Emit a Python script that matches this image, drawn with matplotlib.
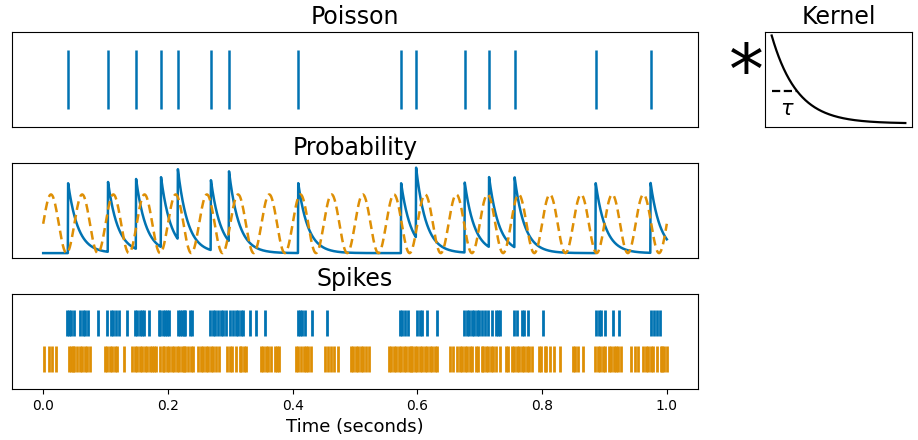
import numpy as np
import matplotlib
matplotlib.use("Agg")
import matplotlib.pyplot as plt

poisson_times = [0.040, 0.104, 0.149, 0.189, 0.216, 0.269, 0.298, 0.409, 0.574,
                 0.598, 0.676, 0.715, 0.756, 0.886, 0.974]
tau = 0.016
rate_freq = 20.0
rate_amp = 0.42

blue_spikes = [0.038, 0.041, 0.045, 0.049, 0.059, 0.064, 0.067, 0.072, 0.088, 0.103, 0.108,
               0.112, 0.116, 0.121, 0.134, 0.148, 0.151, 0.155, 0.158, 0.162, 0.170, 0.185,
               0.188, 0.192, 0.196, 0.199, 0.201, 0.216, 0.219, 0.222, 0.225, 0.228, 0.236,
               0.239, 0.268, 0.272, 0.276, 0.280, 0.285, 0.289, 0.293, 0.299, 0.304, 0.309,
               0.313, 0.317, 0.321, 0.332, 0.342, 0.356, 0.408, 0.412, 0.415, 0.420, 0.431,
               0.455, 0.572, 0.576, 0.580, 0.585, 0.600, 0.604, 0.608, 0.616, 0.632, 0.675,
               0.679, 0.683, 0.687, 0.691, 0.695, 0.699, 0.703, 0.708, 0.714, 0.719, 0.726,
               0.730, 0.733, 0.755, 0.759, 0.767, 0.771, 0.778, 0.801, 0.887, 0.891, 0.895,
               0.901, 0.913, 0.924, 0.975, 0.979, 0.984, 0.989]
orange_spikes = [0.002, 0.009, 0.014, 0.021, 0.041, 0.045, 0.048, 0.050, 0.054, 0.059, 0.063,
                 0.067, 0.071, 0.075, 0.099, 0.103, 0.107, 0.111, 0.115, 0.118, 0.129, 0.143,
                 0.147, 0.151, 0.155, 0.159, 0.163, 0.167, 0.171, 0.175, 0.178, 0.181, 0.188,
                 0.192, 0.194, 0.198, 0.202, 0.206, 0.210, 0.214, 0.218, 0.222, 0.225, 0.228,
                 0.232, 0.237, 0.241, 0.248, 0.253, 0.257, 0.261, 0.264, 0.269, 0.273, 0.277,
                 0.282, 0.294, 0.300, 0.303, 0.309, 0.315, 0.318, 0.322, 0.325, 0.349, 0.353,
                 0.357, 0.361, 0.366, 0.371, 0.375, 0.378, 0.405, 0.409, 0.413, 0.418, 0.422,
                 0.425, 0.429, 0.452, 0.456, 0.462, 0.466, 0.472, 0.493, 0.497, 0.502, 0.505,
                 0.509, 0.513, 0.518, 0.523, 0.554, 0.558, 0.562, 0.566, 0.570, 0.574, 0.578,
                 0.582, 0.586, 0.589, 0.592, 0.596, 0.600, 0.604, 0.608, 0.612, 0.616, 0.620,
                 0.624, 0.628, 0.631, 0.652, 0.657, 0.663, 0.668, 0.672, 0.676, 0.680, 0.684,
                 0.688, 0.694, 0.698, 0.703, 0.706, 0.710, 0.714, 0.718, 0.722, 0.726, 0.732,
                 0.742, 0.746, 0.751, 0.755, 0.759, 0.763, 0.767, 0.771, 0.775, 0.779, 0.784,
                 0.795, 0.799, 0.804, 0.807, 0.812, 0.819, 0.828, 0.849, 0.853, 0.858, 0.866,
                 0.885, 0.890, 0.893, 0.897, 0.901, 0.907, 0.911, 0.915, 0.918, 0.922, 0.926,
                 0.943, 0.949, 0.954, 0.962, 0.966, 0.970, 0.974, 0.978, 0.984, 0.990, 0.992,
                 0.996, 1.000]

BLUE = "#0173b2"
ORANGE = "#de8f05"

fig = plt.figure(figsize=(9.18, 4.4), dpi=100)
W, H = 918, 440
def ax_px(x0, y0, x1, y1):
    return fig.add_axes([x0 / W, 1 - y1 / H, (x1 - x0) / W, (y1 - y0) / H])

xlim = (-0.05, 1.05)
tfs = 17

a1 = ax_px(12, 32, 698, 127)
a1.eventplot(poisson_times, colors=BLUE, lineoffsets=0, linelengths=1, linewidths=1.8)
a1.set_ylim(-0.8, 0.8)
a1.set_xlim(*xlim)
a1.set_xticks([]); a1.set_yticks([])
a1.set_title("Poisson", fontsize=tfs)

a2 = ax_px(12, 163, 698, 258)
t = np.linspace(0, 1, 2001)
prob = np.zeros_like(t)
for ti in poisson_times:
    m = t >= ti
    prob[m] += np.exp(-(t[m] - ti) / tau)
rate = rate_amp * (1 + np.sin(2 * np.pi * rate_freq * t))
a2.plot(t, prob, color=BLUE, lw=1.8)
a2.plot(t, rate, color=ORANGE, lw=1.8, ls=(0, (3.5, 2)))
a2.set_xlim(*xlim)
a2.set_ylim(-0.07, 1.29)
a2.set_xticks([]); a2.set_yticks([])
a2.set_title("Probability", fontsize=tfs)

a3 = ax_px(12, 294, 698, 389)
a3.eventplot([orange_spikes, blue_spikes], colors=[ORANGE, BLUE],
             lineoffsets=[0, 1], linelengths=0.7, linewidths=2.0)
a3.set_xlim(*xlim)
a3.set_ylim(-0.83, 1.8)
a3.set_yticks([])
a3.set_xticks([0, 0.2, 0.4, 0.6, 0.8, 1.0])
a3.set_title("Spikes", fontsize=tfs)
a3.set_xlabel("Time (seconds)", fontsize=13)

ak = ax_px(765, 32, 912, 127)
kx = np.linspace(0, 1, 400)
ktau = 0.19
ak.plot(kx, np.exp(-kx / ktau), color="black", lw=1.6)
ak.plot([0, ktau], [np.exp(-1), np.exp(-1)], color="black", ls="--", lw=1.6)
ak.text(ktau * 0.6, 0.17, r"$\tau$", fontsize=15, ha="center", va="center")
ak.set_xlim(-0.05, 1.05)
ak.set_ylim(-0.04, 1.04)
ak.set_xticks([]); ak.set_yticks([])
ak.set_title("Kernel", fontsize=tfs)

fig.text(746 / W, 1 - 75 / H, "*", fontsize=50, ha="center", va="center")

fig.savefig("out.png", dpi=100)
